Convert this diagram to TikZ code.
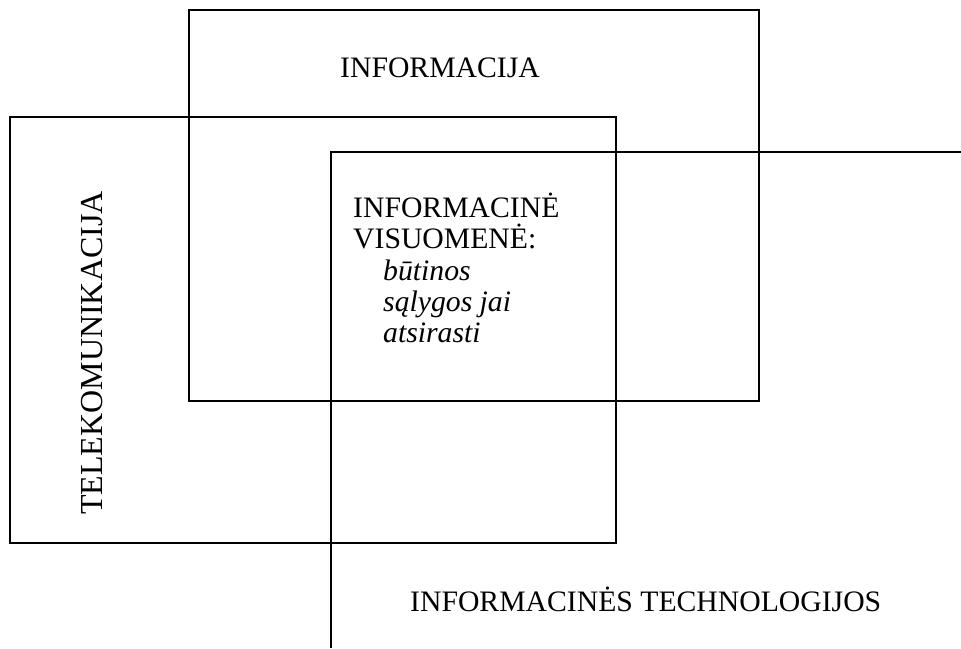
\documentclass[tikz,border=0pt]{standalone}
\usepackage{fontspec}
\setmainfont{Liberation Serif}
\begin{document}
\begin{tikzpicture}[x=1pt,y=-1pt,
  box/.style={draw, line width=1.3pt},
  lbl/.style={inner sep=0pt, anchor=base west, font=\fontsize{29.7}{30}\selectfont}]
\useasboundingbox (0,0) rectangle (961,648);
\draw[box] (189,10) rectangle (759,401);
\draw[box] (10,117) rectangle (616,543);
\coordinate (c1) at (961,152);
\coordinate (c2) at (331,152);
\coordinate (c3) at (331,648);
\draw[box] (c1) -- (c2) -- (c3);
\node[lbl] (info) at (340,77) {INFORMACIJA};
\node[lbl, rotate=90, font=\fontsize{32}{32}\selectfont] (tele) at (102,515) {TELEKOMUNIKACIJA};
\node[lbl] (v1) at (353,217) {INFORMACINĖ};
\node[lbl] (v2) at (353,248) {VISUOMENĖ:};
\node[lbl] (v3) at (383,280) {\itshape būtinos};
\node[lbl] (v4) at (383,311) {\itshape sąlygos jai};
\node[lbl] (v5) at (383,342) {\itshape atsirasti};
\node[lbl] (tech) at (410,611) {INFORMACINĖS TECHNOLOGIJOS};
\end{tikzpicture}
\end{document}
